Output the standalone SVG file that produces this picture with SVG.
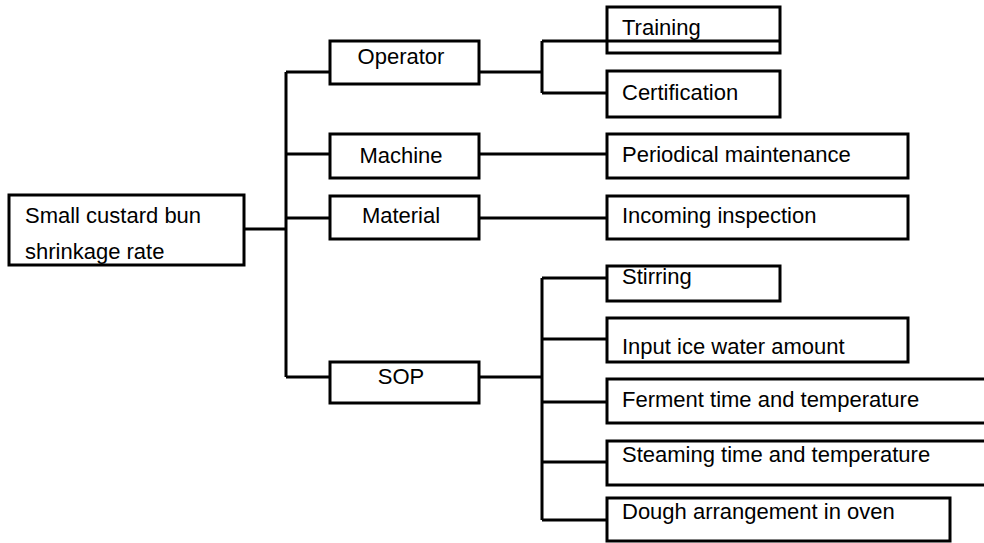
<svg xmlns="http://www.w3.org/2000/svg" width="984" height="543" viewBox="0 0 984 543">
<style>
rect.b{fill:#fff;stroke:#000;stroke-width:3}
text{font-family:"Liberation Sans",Arial,sans-serif;font-size:22px;fill:#000}
.m{text-anchor:middle}
#connectors path{fill:none;stroke:#000;stroke-width:3}
</style>
<rect width="984" height="543" fill="#fff"/>
<g id="connectors">
<path d="M244,229H286M286,72V377M286,72H330M286,154H330M286,218H330M286,377H330"/>
<path d="M479,72H542M542,41V93M542,41H780M542,93H607"/>
<path d="M479,154H607M479,218H607"/>
<path d="M479,377H542M542,278V520M542,278H607M542,339H607M542,402H607M542,462H607M542,520H607"/>
</g>
<g id="root"><rect class="b" x="9" y="195" width="235" height="70"/><text x="25" y="223">Small custard bun</text><text x="25" y="259">shrinkage rate</text></g>
<g id="operator"><rect class="b" x="330" y="41" width="149" height="43"/><text class="m" x="401" y="64">Operator</text></g>
<g id="machine"><rect class="b" x="330" y="134" width="149" height="44"/><text class="m" x="401" y="163">Machine</text></g>
<g id="material"><rect class="b" x="330" y="196" width="149" height="43"/><text class="m" x="401" y="223">Material</text></g>
<g id="sop"><rect class="b" x="330" y="362" width="149" height="41"/><text class="m" x="401" y="384">SOP</text></g>
<g id="training"><rect class="b" x="607" y="7" width="173" height="46" fill="none" style="fill:none"/><text x="622" y="35">Training</text></g>
<g id="certification"><rect class="b" x="607" y="71" width="173" height="46"/><text x="622" y="100">Certification</text></g>
<g id="maintenance"><rect class="b" x="607" y="134" width="301" height="44"/><text x="622" y="162">Periodical maintenance</text></g>
<g id="inspection"><rect class="b" x="607" y="196" width="301" height="43"/><text x="622" y="223">Incoming inspection</text></g>
<g id="stirring"><rect class="b" x="607" y="266" width="173" height="35"/><text x="622" y="284">Stirring</text></g>
<g id="icewater"><rect class="b" x="607" y="318" width="301" height="44"/><text x="622" y="354">Input ice water amount</text></g>
<g id="ferment"><rect class="b" x="607" y="379" width="390" height="44"/><text x="622" y="407">Ferment time and temperature</text></g>
<g id="steaming"><rect class="b" x="607" y="441" width="390" height="44"/><text x="622" y="462">Steaming time and temperature</text></g>
<g id="dough"><rect class="b" x="607" y="498" width="343" height="43"/><text x="622" y="519">Dough arrangement in oven</text></g>
</svg>
